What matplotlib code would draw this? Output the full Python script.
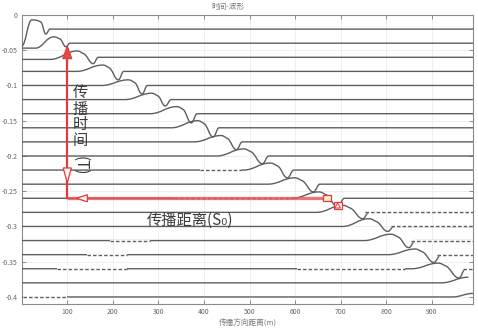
import matplotlib
matplotlib.use("Agg")
import matplotlib.pyplot as plt
from matplotlib.path import Path
from matplotlib.patches import PathPatch, Polygon, Rectangle

plt.rcParams['font.family'] = ['Noto Sans CJK SC', 'DejaVu Sans']

# ---- waveform data (distance in m, time offset) ----
trace_base = [-0.02, -0.04, -0.06, -0.08, -0.10, -0.12, -0.14, -0.16, -0.18, -0.20,
              -0.22, -0.24, -0.26, -0.28, -0.30, -0.32, -0.34, -0.36, -0.38, -0.40]
left_y = [-0.044, -0.047, -0.063, -0.08, -0.10, -0.12, -0.14, -0.16, -0.18, -0.20,
          -0.22, -0.24, -0.26, -0.28, -0.30, -0.32, -0.34, -0.36, -0.38, -0.40]
rise_x = [0, 30, 62, 120, 175, 226, 282, 328, 378, 428,
          486, 540, 593, 646, 703, 751, 804, 855, 920, 945]
peak_x = [22, 70, 122, 178, 234, 285, 340, 386, 437, 487,
          545, 599, 652, 705, 762, 810, 863, 914, 980, 990]
crest_x = [42, 84, 136, 192, 248, 299, 354, 400, 451, 503,
           561, 615, 668, 721, 778, 826, 879, 930, None, None]
peak_y = [-0.007, -0.031, -0.051, -0.071, -0.092, -0.111, -0.130, -0.150, -0.171, -0.190,
          -0.210, -0.231, -0.251, -0.270, -0.289, -0.311, -0.332, -0.352, -0.372, -0.395]
crest_y = [-0.010, -0.034, -0.055, -0.075, -0.096, -0.115, -0.134, -0.154, -0.175, -0.194,
           -0.214, -0.235, -0.255, -0.274, -0.293, -0.315, -0.336, -0.356, None, None]
notch_x = [53, 97, 157, 212, 264, 315, 372, 420, 471, 528,
           583, 640, 693, 748, 803, 849, 904, 959, None, None]
notch_y = [-0.027, -0.045, -0.069, -0.092, -0.112, -0.129, -0.153, -0.173, -0.191, -0.211,
           -0.231, -0.251, -0.272, -0.289, -0.307, -0.330, -0.351, -0.373, None, None]
settle_x = [62, 106, 168, 224, 276, 328, 385, 433, 484, 542,
            597, 654, 708, 762, 817, 864, 920, 974, None, None]

# stretches of each trace carrying small high-frequency ripple (trace number, from, to)
ripple_trace = [11, 13, 14, 15, 16, 16, 17, 17, 18, 18, 18, 20]
ripple_x0 = [392, 333, 754, 810, 194, 853, 143, 910, 78, 605, 968, 3]
ripple_x1 = [480, 590, 990, 990, 282, 990, 232, 990, 232, 840, 990, 100]

x_ticks = [100, 200, 300, 400, 500, 600, 700, 800, 900]
y_ticks = [0, -0.05, -0.1, -0.15, -0.2, -0.25, -0.3, -0.35, -0.4]
y_tick_labels = ['0', '-0.05', '-0.1', '-0.15', '-0.2', '-0.25', '-0.3', '-0.35', '-0.4']

# propagation markers: time span at x0, distance span along the lower edge
mark_x0 = 100
mark_y_top = -0.044
mark_y_bottom = -0.26
mark_x_end = 660

X_MAX = 990
W, H = 478, 330


def fx(px):
    return px / W


def fy(py):
    return 1 - py / H


def smooth_path(xs, ys, slopes, handle=0.42):
    """Cubic Hermite path through key points with the given end slopes."""
    verts = [(xs[0], ys[0])]
    codes = [Path.MOVETO]
    for i in range(len(xs) - 1):
        dx = xs[i + 1] - xs[i]
        h = handle * dx
        verts += [(xs[i] + h, ys[i] + h * slopes[i]),
                  (xs[i + 1] - h, ys[i + 1] - h * slopes[i + 1]),
                  (xs[i + 1], ys[i + 1])]
        codes += [Path.CURVE4] * 3
    return Path(verts, codes)


fig = plt.figure(figsize=(W / 100, H / 100), dpi=100)
ax = fig.add_axes([fx(21.7), fy(304), fx(473) - fx(21.7), fy(15) - fy(304)])
ax.set_xlim(0, X_MAX)
ax.set_ylim(-0.41, 0)

trace_color = '#5e5e5e'
for k in range(len(trace_base)):
    xs = [0]
    ys = [left_y[k]]
    if rise_x[k] > 0:
        xs.append(rise_x[k])
        ys.append(left_y[k])
    xs.append(peak_x[k])
    ys.append(peak_y[k])
    sl = [0.0] * len(xs)
    if crest_x[k] is not None:
        # the crest rolls over towards the notch
        roll = 0.55 * (notch_y[k] - peak_y[k]) / (notch_x[k] - peak_x[k])
        xs += [crest_x[k], notch_x[k], settle_x[k], X_MAX]
        ys += [crest_y[k], notch_y[k], trace_base[k], trace_base[k]]
        sl += [roll, 0.0, 0.0, 0.0]
    ax.add_patch(PathPatch(smooth_path(xs, ys, sl), facecolor='none',
                           edgecolor=trace_color, lw=1.0, zorder=3))

for t, a, b in zip(ripple_trace, ripple_x0, ripple_x1):
    y = trace_base[t - 1]
    ax.plot([a, b], [y, y], color='white', lw=1.7, zorder=3.5, solid_capstyle='butt')
    ax.plot([a, b], [y, y], color=trace_color, lw=1.0, zorder=3.6,
            linestyle=(0, (2.5, 1.5)))

# axes styling
ax.set_xticks(x_ticks)
ax.set_xticklabels([str(v) for v in x_ticks])
ax.set_yticks(y_ticks)
ax.set_yticklabels(y_tick_labels)
ax.tick_params(direction='in', length=3, width=0.6, top=True, right=True,
               colors='#7a7a7a', labelcolor='#666666', labelsize=5, pad=3)
ax.grid(True, color='#ececec', lw=0.6, zorder=0)
ax.set_axisbelow(True)
for s in ax.spines.values():
    s.set_color('#8a8a8a')
    s.set_linewidth(0.8)

# red propagation markers
red = '#e03c3c'
ax.plot([mark_x0, mark_x0], [mark_y_top - 0.018, mark_y_bottom], color=red, lw=1.6, zorder=5)
ax.plot([mark_x0, mark_x_end], [mark_y_bottom, mark_y_bottom], color='#e85454',
        lw=2.4, alpha=0.8, zorder=5, solid_capstyle='butt')
ax.add_patch(Polygon([(mark_x0 - 10, mark_y_top - 0.018), (mark_x0 + 10, mark_y_top - 0.018),
                      (mark_x0, mark_y_top)], closed=True, facecolor='#e24a4a',
                     edgecolor=red, lw=0.8, zorder=6))
ax.add_patch(Polygon([(mark_x0 - 9, -0.217), (mark_x0 + 9, -0.217), (mark_x0, -0.238)],
                     closed=True, facecolor='#fff2f2', edgecolor=red, lw=0.9, zorder=6))
ax.add_patch(Polygon([(mark_x0 + 20, mark_y_bottom), (mark_x0 + 44, mark_y_bottom + 0.005),
                      (mark_x0 + 44, mark_y_bottom - 0.005)],
                     closed=True, facecolor='#fff2f2', edgecolor=red, lw=0.9, zorder=6))
ax.add_patch(Rectangle((mark_x_end, -0.2638), 18, 0.0085, facecolor='#fbead0',
                       edgecolor=red, lw=0.9, zorder=6))
ax.add_patch(Rectangle((mark_x_end + 24, -0.2752), 18, 0.0102, facecolor='#fff4f4',
                       edgecolor=red, lw=0.9, zorder=6))
ax.add_patch(Polygon([(mark_x_end + 27, -0.2738), (mark_x_end + 39, -0.2738),
                      (mark_x_end + 33, -0.2665)], closed=True, facecolor='none',
                     edgecolor=red, lw=0.7, zorder=6))

# annotation text
txt_color = '#3c3c3c'
for ch, py in zip(['传', '播', '时', '间'], [92, 109, 125, 141]):
    fig.text(fx(80), fy(py), ch, ha='center', va='center', fontsize=11, color=txt_color)
fig.text(fx(80), fy(166), '(T)', ha='center', va='center', fontsize=11,
         color=txt_color, rotation=270)
fig.text(fx(190), fy(220), '传播距离(S₀)', ha='center', va='center', fontsize=11,
         color=txt_color)

# title and axis label
fig.text(fx(228), fy(7), '时间-波形', ha='center', va='center', fontsize=5.5, color='#777777')
fig.text(fx(248), fy(323), '传播方向距离(m)', ha='center', va='center', fontsize=5.5,
         color='#777777')

fig.savefig('out.png', dpi=100)
